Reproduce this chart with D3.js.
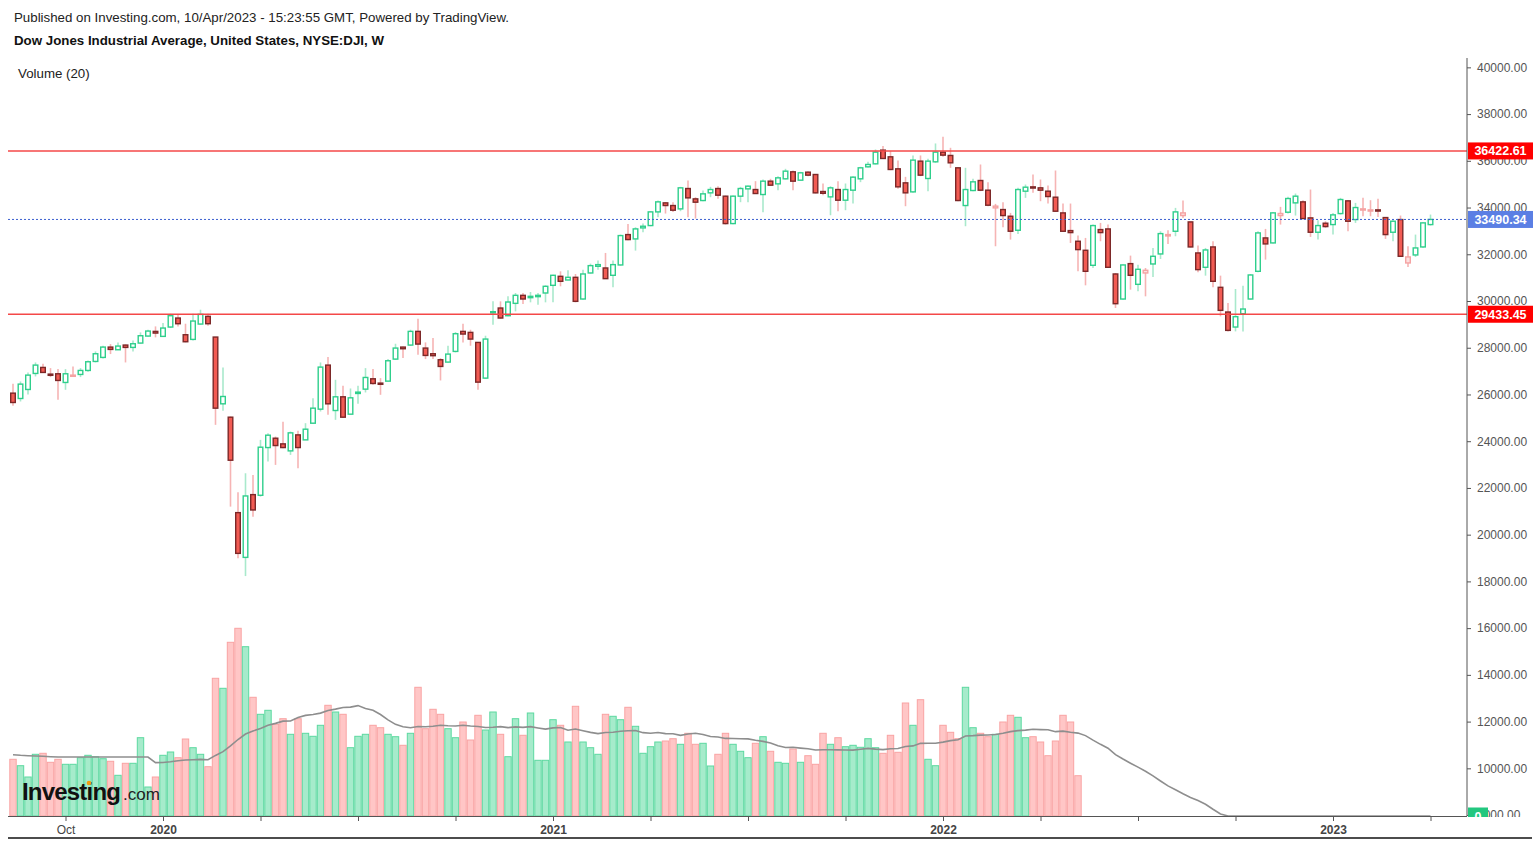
<!DOCTYPE html>
<html>
<head>
<meta charset="utf-8">
<script src="https://cdn.jsdelivr.net/npm/d3@7"></script>
<style>
    html, body { margin: 0; padding: 0; background: #fff; }
    svg { display: block; font-family: "Liberation Sans", Arial, sans-serif; }
</style>
</head>
<body>
<div id="chart"></div>
<script>
// weekly DJI bars, Aug 19 2019 .. Apr 3 2023 (one value per week)
const weekFirst = new Date(2019, 7, 19);
const weekLast  = new Date(2023, 3, 3);

const open = [
    26057,25828,26214,26900,27157,26871,26886,26514,26786,26857,27028,27414,27586,28028,27914,28114,28014,28200,28500,28700,
    28486,28886,29271,28557,28357,29014,29343,28457,25600,25028,20943,19028,21714,21686,23728,24128,23886,23586,24271,24057,
    24771,25371,27257,25314,25900,25157,26043,26228,26671,26486,26571,27514,28028,28114,28700,27986,27743,27486,27386,27843,
    28700,28657,28228,26700,29514,29700,29371,29900,30243,30143,30186,30343,30671,31057,30900,31014,30086,31200,31486,31414,
    31100,31543,32843,32657,33129,33229,33814,34200,34086,33943,34814,34371,34300,34629,34814,34486,33314,34486,34800,34771,
    34557,35129,35014,35229,35529,35171,35514,35414,34686,34457,34771,34314,34743,35229,35743,35871,36457,36171,35657,35057,
    34671,35986,35243,35957,36371,36229,35700,34086,34729,35157,34743,33986,33914,33628,33028,34700,34885,34843,34700,34443,
    33771,33014,32557,32171,31528,33057,33085,31157,30085,31600,30714,31200,31585,32014,32785,32985,33657,33385,32057,31443,
    32314,30586,29529,28886,29457,30086,31271,32700,32486,33657,33800,34200,34243,33557,32943,33329,33271,33743,34286,33486,
    33900,33857,33900,33571,32943,33486,31629,31971,32314,33271
];
const high = [
    26457,26557,26943,27371,27314,27128,27086,27086,27200,27128,27457,27843,28086,28157,28228,28143,28314,28657,28771,28914,
    29057,29457,29414,29028,29457,29628,29457,28457,27157,25057,21814,22628,22557,24057,24343,24200,24828,24414,24443,24771,
    25843,27371,27600,26628,26371,26257,26371,27128,27086,26700,27514,28171,28057,28771,29243,28228,28414,27557,28086,28671,
    29028,28771,28228,28514,29986,29986,30200,30343,30343,30386,30343,30671,31129,31271,31314,31157,31343,31600,31729,32057,
    31729,32843,33300,33157,33314,33843,34300,34229,34229,34886,35157,34443,34729,34886,34914,34514,34514,34886,34943,35129,
    35200,35229,35343,35657,35586,35529,35557,35414,35029,34914,35129,35029,35343,35743,35957,36486,36629,36414,36014,35314,
    36229,36229,36086,36743,37029,36557,35730,35700,35229,35843,35085,34157,34228,33771,34843,34985,35414,35200,34943,35585,
    34171,34171,32800,32700,33271,33343,33271,31200,31560,31943,31557,31414,32271,32985,33028,33985,34300,33400,32371,32271,
    32557,31086,29914,30514,30657,31157,32986,33086,33814,34029,34457,34600,34314,34771,33457,33414,33771,34414,34314,34200,
    34414,34314,34371,33571,33457,33657,32343,32843,33371,33700
];
const low = [
    25514,25700,26000,26771,26914,26743,25771,26200,26771,26743,26971,27371,27543,27729,27900,27371,27843,28171,28471,28443,
    28457,28843,28914,28228,28314,28986,28943,24700,25300,21200,18986,18228,20771,21628,23128,22986,23700,23414,22843,24057,
    24743,25271,25128,24914,24990,25157,25600,26086,26414,25986,26571,27486,27557,28086,27700,27514,27514,26600,27371,27800,
    28228,28086,26200,26671,28986,29243,29343,29557,29871,29943,29843,29943,29943,30629,30886,29943,30057,31171,31343,30943,
    30586,31514,32600,32157,32943,33200,33586,33743,33814,33843,33586,33529,34271,34443,34371,33271,33286,34229,34229,34580,
    33800,34943,34743,35200,34743,35171,35343,34600,34529,33671,33843,33886,34171,35086,35714,35843,36086,35600,34800,34057,
    34629,35343,34700,35914,36171,35700,34271,33200,34700,34700,34057,32343,33157,32628,32871,34414,34628,34271,34171,33820,
    32960,32485,31271,30671,31414,32557,31414,29700,30057,30485,30414,30200,31028,31800,32443,32771,33557,32285,31228,31085,
    30585,29343,28700,28700,28700,30057,31229,31771,32457,33271,33743,33657,33514,32743,32629,33128,32843,33700,32986,33343,
    33628,33628,33600,32657,32557,31886,31457,31886,32271,33229
];
const close = [
    25657,26443,26828,27257,26943,26843,26600,26886,26828,27028,27400,27743,28028,27928,28071,28014,28171,28514,28714,28628,
    28843,29371,29028,28257,29143,29428,29028,25414,25914,23186,19200,21657,21057,23743,24257,23814,23728,24357,23728,24514,
    25414,27171,25600,25900,25028,25857,26100,26728,26471,26443,27443,27986,27957,28700,28157,27671,27660,27200,27728,28600,
    28586,28371,26528,28371,29543,29272,29957,30243,30086,30200,30243,30629,31100,30843,31014,29986,31157,31514,31557,30957,
    31557,32800,32629,33086,33200,33814,34243,34086,33886,34843,34414,34229,34586,34771,34529,33314,34486,34814,34914,34600,
    35129,34957,35271,35557,35129,35486,35386,34629,34610,34843,34314,34771,35300,35700,35843,36371,36100,35629,34886,34629,
    36029,35386,35986,36371,36243,35914,34300,34771,35100,34743,34100,34060,33657,32986,34771,34871,34843,34743,34471,33843,
    32985,32928,32200,31271,33228,32928,31443,29885,31543,31100,31357,31314,31914,32885,32843,33814,33771,32314,31343,32185,
    30843,29600,28743,29329,29657,31114,32914,32443,33771,33745,34386,34486,33529,32943,33229,33186,33686,34343,33414,34000,
    33943,33900,33857,32843,33414,31914,31886,32271,33343,33490.34
];
// volume (millions of shares); the feed stops after the week of May 16 2022
const volume = [
    567,503,390,617,627,537,567,517,517,583,607,593,573,547,407,527,527,783,290,390,
    607,640,583,770,683,617,493,1377,1277,1737,1877,1693,1187,1017,1057,917,973,817,973,827,
    797,907,1107,1040,1017,683,797,817,907,883,817,793,707,827,1287,873,1067,1017,873,783,
    940,760,1007,860,1040,817,593,973,807,1030,557,557,963,907,740,1097,740,683,617,1017,
    997,963,1087,897,627,693,740,750,773,717,827,717,727,500,617,827,717,647,583,727,
    793,647,537,527,670,537,603,517,827,717,783,693,707,687,773,683,627,807,637,1130,
    907,1163,567,503,907,837,773,1287,883,827,793,817,940,1007,987,783,793,740,603,750,
    1007,940,403
];
// Volume MA(20) for the first 19 weeks (its window reaches back before the chart)
const volumeMaHead = [613,607,603,600,597,593,590,590,590,590,590,590,590,590,590,590,590,590,590];

const quarterLabels = ['Oct', '2020', '', '', '', '2021', '', '', '', '2022', '', '', '', '2023', ''];
const priceTicks    = [8000,10000,12000,14000,16000,18000,20000,22000,24000,26000,28000,30000,32000,34000,36000,38000,40000];
const levelLines    = [36422.61, 29433.45];
const lastPrice     = 33490.34;

const titleLine   = 'Published on Investing.com, 10/Apr/2023 - 15:23:55 GMT, Powered by TradingView.';
const symbolLine  = 'Dow Jones Industrial Average, United States, NYSE:DJI, W';
const volumeTitle = 'Volume (20)';

const W = 1539, H = 844;
const PLOT = { left: 8, right: 1467, top: 58, bottom: 816 };

const C_UP       = '#2fcf8c';
const C_UP_WICK  = '#a9e9cc';
const C_DN_FILL  = '#f25b53';
const C_DN_EDGE  = '#7c2828';
const C_DN_WICK  = '#f6b4b4';
const C_DN_HOLLOW = '#f5a3a3';
const C_VOL_UP   = '#a6ebcb';
const C_VOL_UP_E = '#5cd9a0';
const C_VOL_DN   = '#ffc6c6';
const C_VOL_DN_E = '#f9a3a3';
const C_LEVEL    = '#f44848';
const C_AXIS     = '#555';

const dates = d3.timeMonday.range(weekFirst, d3.timeDay.offset(weekLast, 1));
const bars = dates.map((d, i) => ({
    i, date: d,
    o: open[i], h: high[i], l: low[i], c: close[i],
    v: i < volume.length ? volume[i] : 0
}));

const svg = d3.select('#chart').append('svg')
    .attr('width', W)
    .attr('height', H);

const defs = svg.append('defs');
defs.append('clipPath').attr('id', 'plotClip').append('rect')
    .attr('x', PLOT.left).attr('y', PLOT.top)
    .attr('width', PLOT.right - PLOT.left).attr('height', PLOT.bottom - PLOT.top);
defs.append('clipPath').attr('id', 'axisClip').append('rect')
    .attr('x', PLOT.right - 1).attr('y', PLOT.top - 20)
    .attr('width', W - PLOT.right + 1).attr('height', PLOT.bottom - PLOT.top + 21);

const x = d3.scaleTime()
    .domain([dates[0], dates[dates.length - 1]])
    .range([13, 1430.5]);
const y = d3.scaleLinear().domain([7960, 40400]).range([PLOT.bottom, PLOT.top]);
const yVol = d3.scaleLinear().domain([0, 2000]).range([PLOT.bottom, PLOT.bottom - 200]);

const plot = svg.append('g').attr('clip-path', 'url(#plotClip)');

drawVolume(plot);
drawCandles(plot);
drawLevels(plot);
drawAxes();
drawTexts();

function drawVolume(g) {
    const bw = 6.4;
    g.append('g').selectAll('rect').data(bars.filter(b => b.v > 0)).enter().append('rect')
        .attr('x', b => x(b.date) - bw / 2)
        .attr('y', b => yVol(b.v))
        .attr('width', bw)
        .attr('height', b => yVol(0) - yVol(b.v))
        .attr('fill', b => b.c >= b.o ? C_VOL_UP : C_VOL_DN)
        .attr('stroke', b => b.c >= b.o ? C_VOL_UP_E : C_VOL_DN_E)
        .attr('stroke-width', 1);

    // simple 20-week moving average, missing weeks count as zero
    const ma = bars.map((b, i) => {
        if (i < volumeMaHead.length) return volumeMaHead[i];
        return d3.mean(bars.slice(i - 19, i + 1), d => d.v);
    });
    const line = d3.line()
        .x((_, i) => x(dates[i]))
        .y(d => yVol(d));
    g.append('path').datum(ma)
        .attr('d', line)
        .attr('fill', 'none')
        .attr('stroke', '#8e8e8e')
        .attr('stroke-width', 1.6);
}

function candleStyle(b, i) {
    const prev = i > 0 ? close[i - 1] : b.o;
    const up = b.c >= prev;
    const hollow = b.c > b.o;
    if (up) return { wick: C_UP_WICK, stroke: C_UP, fill: hollow ? '#fff' : C_UP };
    if (hollow) return { wick: C_DN_WICK, stroke: C_DN_HOLLOW, fill: '#fde0e0' };
    return { wick: C_DN_WICK, stroke: C_DN_EDGE, fill: C_DN_FILL };
}

function drawCandles(g) {
    const bw = 4.6;
    const cg = g.append('g');
    bars.forEach((b, i) => {
        const st = candleStyle(b, i);
        const cx = x(b.date);
        cg.append('line')
            .attr('x1', cx).attr('x2', cx)
            .attr('y1', y(b.h)).attr('y2', y(b.l))
            .attr('stroke', st.wick).attr('stroke-width', 1.6);
        const top = y(Math.max(b.o, b.c));
        const hgt = Math.max(1.2, Math.abs(y(b.o) - y(b.c)));
        cg.append('rect')
            .attr('x', cx - bw / 2).attr('y', top)
            .attr('width', bw).attr('height', hgt)
            .attr('fill', st.fill)
            .attr('stroke', st.stroke).attr('stroke-width', 1.4);
    });
}

function drawLevels(g) {
    levelLines.forEach(v => {
        g.append('line')
            .attr('x1', PLOT.left).attr('x2', PLOT.right)
            .attr('y1', y(v)).attr('y2', y(v))
            .attr('stroke', C_LEVEL).attr('stroke-width', 1.6);
    });
    g.append('line')
        .attr('x1', PLOT.left).attr('x2', PLOT.right)
        .attr('y1', y(lastPrice)).attr('y2', y(lastPrice))
        .attr('stroke', '#3b5fd0').attr('stroke-width', 1)
        .attr('stroke-dasharray', '2,2');
}

function drawAxes() {
    const ax = svg.append('g').attr('clip-path', 'url(#axisClip)');
    const right = ax.append('g')
        .attr('transform', `translate(${PLOT.right},0)`)
        .call(d3.axisRight(y).tickValues(priceTicks).tickSize(4).tickPadding(6).tickFormat(d3.format('.2f')));
    right.select('.domain').remove();
    right.selectAll('.tick line').attr('stroke', C_AXIS);
    right.selectAll('.tick text').attr('fill', '#555').style('font-size', '12px')
        .style('font-family', '"Liberation Sans", Arial, sans-serif');
    ax.append('line')
        .attr('x1', PLOT.right).attr('x2', PLOT.right)
        .attr('y1', PLOT.top).attr('y2', PLOT.bottom)
        .attr('stroke', C_AXIS).attr('stroke-width', 1);

    // value labels on the price scale
    const tags = [
        { v: levelLines[0], text: d3.format('.2f')(levelLines[0]), color: '#ff0000' },
        { v: lastPrice,     text: d3.format('.2f')(lastPrice),     color: '#5b7fe4' },
        { v: levelLines[1], text: d3.format('.2f')(levelLines[1]), color: '#ff0000' },
        { v: 0, text: '0', color: '#22c77f', vol: true }
    ];
    tags.forEach(t => {
        const cy = t.vol ? yVol(0) : y(t.v);
        const wdt = t.vol ? 20 : 65;
        ax.append('rect')
            .attr('x', PLOT.right + 1).attr('y', cy - 8.5)
            .attr('width', wdt).attr('height', 17)
            .attr('fill', t.color);
        ax.append('text')
            .attr('x', PLOT.right + 1 + wdt / 2).attr('y', cy + 4.5)
            .attr('text-anchor', 'middle')
            .attr('fill', '#fff').style('font-size', '12.5px').style('font-weight', 'bold')
            .text(t.text);
    });

    const qTicks = dates.filter((d, i) => i > 0 && d.getMonth() % 3 === 0 && d.getMonth() !== dates[i - 1].getMonth());
    const bottom = svg.append('g')
        .attr('transform', `translate(0,${PLOT.bottom})`)
        .call(d3.axisBottom(x).tickValues(qTicks).tickSize(5).tickPadding(4)
            .tickFormat((d, i) => quarterLabels[i]));
    bottom.select('.domain').remove();
    bottom.selectAll('.tick line').attr('stroke', C_AXIS);
    bottom.selectAll('.tick text')
        .attr('fill', '#444').style('font-size', '12px')
        .style('font-family', '"Liberation Sans", Arial, sans-serif')
        .style('font-weight', (d, i) => i === 0 ? 'normal' : 'bold');
    svg.append('line')
        .attr('x1', PLOT.left).attr('x2', PLOT.right)
        .attr('y1', PLOT.bottom + 0.5).attr('y2', PLOT.bottom + 0.5)
        .attr('stroke', C_AXIS).attr('stroke-width', 1);

    svg.append('line')
        .attr('x1', PLOT.left).attr('x2', 1532)
        .attr('y1', 838).attr('y2', 838)
        .attr('stroke', '#111').attr('stroke-width', 1.5);
}

function drawTexts() {
    svg.append('text').attr('x', 14).attr('y', 22)
        .attr('fill', '#222').style('font-size', '13.3px')
        .text(titleLine);
    svg.append('text').attr('x', 14).attr('y', 45)
        .attr('fill', '#111').style('font-size', '13.3px').style('font-weight', 'bold')
        .text(symbolLine);
    svg.append('text').attr('x', 18).attr('y', 78)
        .attr('fill', '#222').style('font-size', '13.3px')
        .text(volumeTitle);

    // investing.com watermark
    const logo = svg.append('g');
    const word = logo.append('text').attr('x', 22).attr('y', 800)
        .attr('fill', '#111').style('font-size', '24px').style('font-weight', 'bold')
        .style('letter-spacing', '-0.8px')
        .text('Investing');
    logo.append('text').attr('x', 123).attr('y', 800)
        .attr('fill', '#222').style('font-size', '17px')
        .text('.com');
    const p = word.node().getStartPositionOfChar(6);
    const ext = word.node().getExtentOfChar(6);
    logo.append('circle')
        .attr('cx', p.x + ext.width / 2 - 0.5).attr('cy', 783)
        .attr('r', 2.3).attr('fill', '#f39c12');
}
</script>
</body>
</html>
